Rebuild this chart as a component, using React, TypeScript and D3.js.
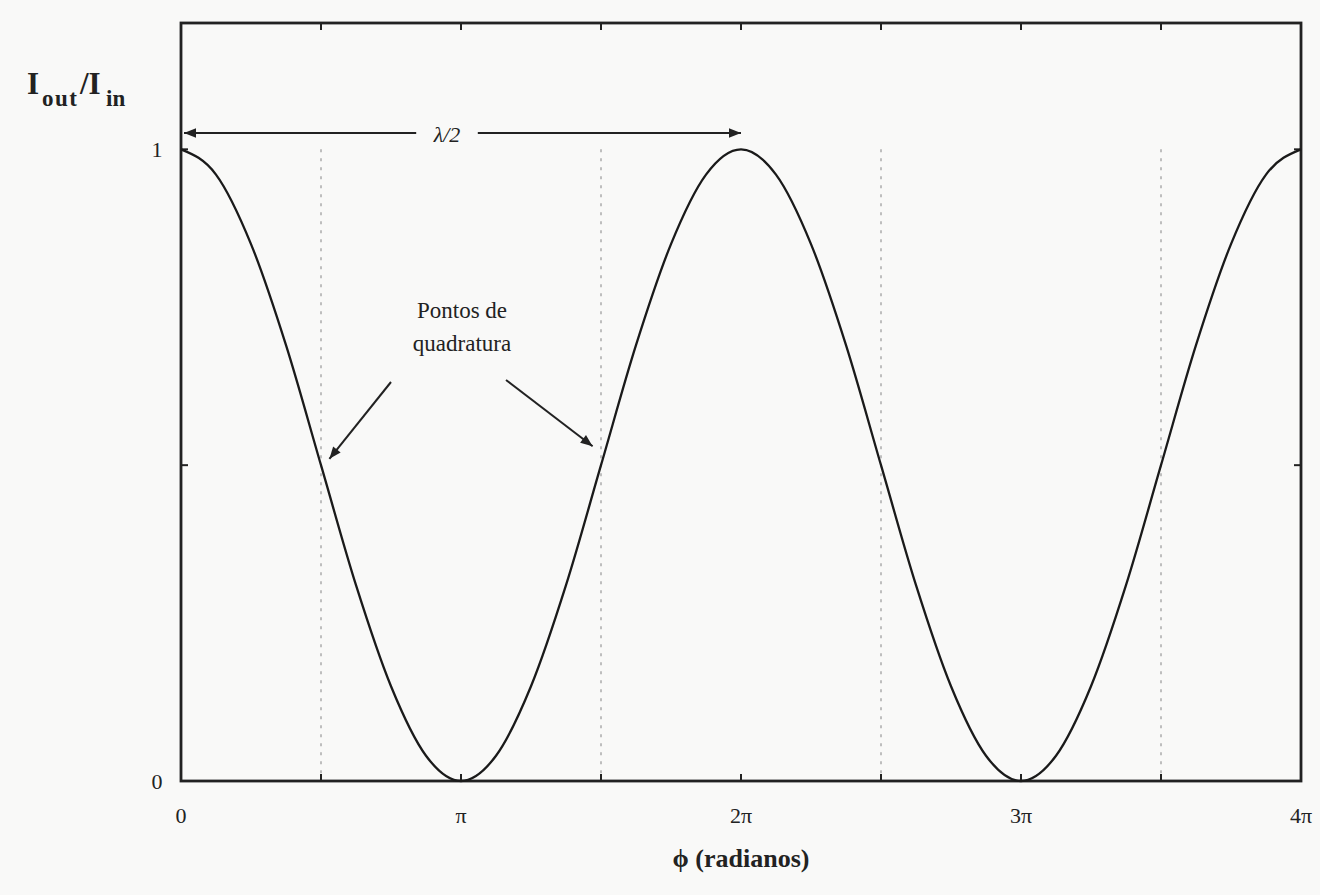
import React from "react";
import * as d3 from "d3";

// phase in units of pi, sampled every pi/8
const phaseSteps: number[] = [
  0, 0.125, 0.25, 0.375, 0.5, 0.625, 0.75, 0.875, 1,
  1.125, 1.25, 1.375, 1.5, 1.625, 1.75, 1.875, 2,
  2.125, 2.25, 2.375, 2.5, 2.625, 2.75, 2.875, 3,
  3.125, 3.25, 3.375, 3.5, 3.625, 3.75, 3.875, 4,
];
const intensity: number[] = [
  1, 0.96, 0.85, 0.69, 0.5, 0.31, 0.15, 0.04, 0,
  0.04, 0.15, 0.31, 0.5, 0.69, 0.85, 0.96, 1,
  0.96, 0.85, 0.69, 0.5, 0.31, 0.15, 0.04, 0,
  0.04, 0.15, 0.31, 0.5, 0.69, 0.85, 0.96, 1,
];
const xTicks: number[] = [0, 0.5, 1, 1.5, 2, 2.5, 3, 3.5, 4];
const xTickLabels: string[] = ["0", "", "π", "", "2π", "", "3π", "", "4π"];
const quadrature: number[] = [0.5, 1.5, 2.5, 3.5];
const yTicks: number[] = [0, 0.5, 1];
const yTickLabels: string[] = ["0", "", "1"];

const Chart = () => {
  const svg = React.useRef<SVGSVGElement>(null);

  const width = 1320;
  const height = 895;
  const margin = { top: 23, right: 19, bottom: 114, left: 181 };

  React.useEffect(() => {
    drawChart(svg);
  }, [svg]);

  function drawChart(svgRef: React.RefObject<SVGSVGElement>) {
    const root = d3.select(svgRef.current);
    root.selectAll("*").remove();

    const x = d3.scaleLinear().domain([0, 4]).range([margin.left, width - margin.right]);
    const y = d3.scaleLinear().domain([0, 1.2]).range([height - margin.bottom, margin.top]);
    const serif = "'Liberation Serif', 'DejaVu Serif', serif";

    root.append("rect").attr("width", width).attr("height", height).attr("fill", "#f9f9f8");

    root
      .append("defs")
      .append("marker")
      .attr("id", "head")
      .attr("viewBox", "0 0 10 10")
      .attr("refX", 10)
      .attr("refY", 5)
      .attr("markerWidth", 18)
      .attr("markerHeight", 12)
      .attr("markerUnits", "userSpaceOnUse")
      .attr("orient", "auto-start-reverse")
      .append("path")
      .attr("d", "M0,1 L10,5 L0,9 z")
      .attr("fill", "#222");

    // dotted quadrature guides
    root
      .selectAll(".guide")
      .data(quadrature)
      .enter()
      .append("line")
      .attr("x1", (d) => x(d))
      .attr("x2", (d) => x(d))
      .attr("y1", y(1))
      .attr("y2", y(0))
      .attr("stroke", "#aaa")
      .attr("stroke-width", 1.5)
      .attr("stroke-dasharray", "3,6");

    // ticks on all four sides
    const tickLen = 7;
    const tickG = root.append("g").attr("stroke", "#222").attr("stroke-width", 2);
    xTicks.forEach((t) => {
      tickG.append("line").attr("x1", x(t)).attr("x2", x(t)).attr("y1", y(0)).attr("y2", y(0) - tickLen);
      tickG.append("line").attr("x1", x(t)).attr("x2", x(t)).attr("y1", y(1.2)).attr("y2", y(1.2) + tickLen);
    });
    yTicks.forEach((t) => {
      tickG.append("line").attr("x1", x(0)).attr("x2", x(0) + tickLen).attr("y1", y(t)).attr("y2", y(t));
      tickG.append("line").attr("x1", x(4)).attr("x2", x(4) - tickLen).attr("y1", y(t)).attr("y2", y(t));
    });

    // frame
    root
      .append("rect")
      .attr("x", x(0))
      .attr("y", y(1.2))
      .attr("width", x(4) - x(0))
      .attr("height", y(0) - y(1.2))
      .attr("fill", "none")
      .attr("stroke", "#222")
      .attr("stroke-width", 2.8);

    // curve
    const line = d3
      .line<number>()
      .x((_, i) => x(phaseSteps[i]))
      .y((d) => y(d))
      .curve(d3.curveMonotoneX);
    root
      .append("path")
      .attr("d", line(intensity))
      .attr("fill", "none")
      .attr("stroke", "#1a1a1a")
      .attr("stroke-width", 2.3);

    // tick labels
    root
      .selectAll(".xl")
      .data(xTicks)
      .enter()
      .append("text")
      .attr("x", (d) => x(d))
      .attr("y", 823)
      .attr("text-anchor", "middle")
      .attr("font-family", serif)
      .attr("font-size", 22)
      .attr("fill", "#222")
      .text((_, i) => xTickLabels[i]);
    root
      .selectAll(".yl")
      .data(yTicks)
      .enter()
      .append("text")
      .attr("x", 157)
      .attr("y", (d) => y(d) + 8)
      .attr("text-anchor", "middle")
      .attr("font-family", serif)
      .attr("font-size", 22)
      .attr("fill", "#222")
      .text((_, i) => yTickLabels[i]);

    // axis titles
    const yt = root
      .append("text")
      .attr("y", 94)
      .attr("font-family", serif)
      .attr("font-weight", "bold")
      .attr("font-size", 31)
      .attr("fill", "#222");
    yt.append("tspan").attr("x", 27).text("I");
    yt.append("tspan").attr("x", 42).attr("dy", 12).attr("font-size", 23).attr("letter-spacing", 1.5).text("out");
    yt.append("tspan").attr("x", 80).attr("dy", -12).text("/I");
    yt.append("tspan").attr("x", 106).attr("dy", 12).attr("font-size", 23).text("in");

    root
      .append("text")
      .attr("x", x(2))
      .attr("y", 867)
      .attr("text-anchor", "middle")
      .attr("font-family", serif)
      .attr("font-weight", "bold")
      .attr("font-size", 26)
      .attr("fill", "#222")
      .text("ϕ (radianos)");

    // lambda/2 double arrow
    root
      .append("line")
      .attr("x1", x(0.84))
      .attr("x2", x(0) + 3)
      .attr("y1", 133)
      .attr("y2", 133)
      .attr("stroke", "#222")
      .attr("stroke-width", 2)
      .attr("marker-end", "url(#head)");
    root
      .append("line")
      .attr("x1", x(1.06))
      .attr("x2", x(2))
      .attr("y1", 133)
      .attr("y2", 133)
      .attr("stroke", "#222")
      .attr("stroke-width", 2)
      .attr("marker-end", "url(#head)");
    root
      .append("text")
      .attr("x", x(0.95))
      .attr("y", 142)
      .attr("text-anchor", "middle")
      .attr("font-family", serif)
      .attr("font-style", "italic")
      .attr("font-size", 22)
      .attr("fill", "#222")
      .text("λ/2");

    // quadrature annotation
    const note = root
      .append("text")
      .attr("text-anchor", "middle")
      .attr("font-family", serif)
      .attr("font-size", 23)
      .attr("fill", "#222");
    note.append("tspan").attr("x", 462).attr("y", 318).text("Pontos de");
    note.append("tspan").attr("x", 462).attr("y", 351).text("quadratura");

    root
      .append("line")
      .attr("x1", 391)
      .attr("y1", 382)
      .attr("x2", x(0.53))
      .attr("y2", y(0.51))
      .attr("stroke", "#222")
      .attr("stroke-width", 2)
      .attr("marker-end", "url(#head)");
    root
      .append("line")
      .attr("x1", 506)
      .attr("y1", 380)
      .attr("x2", x(1.47))
      .attr("y2", y(0.53))
      .attr("stroke", "#222")
      .attr("stroke-width", 2)
      .attr("marker-end", "url(#head)");
  }

  return (
    <svg
      width={width}
      height={height}
      ref={svg}
      style={{ position: "absolute", left: 0, top: 0 }}
    />
  );
};

export default function App() {
  return <Chart />;
}
